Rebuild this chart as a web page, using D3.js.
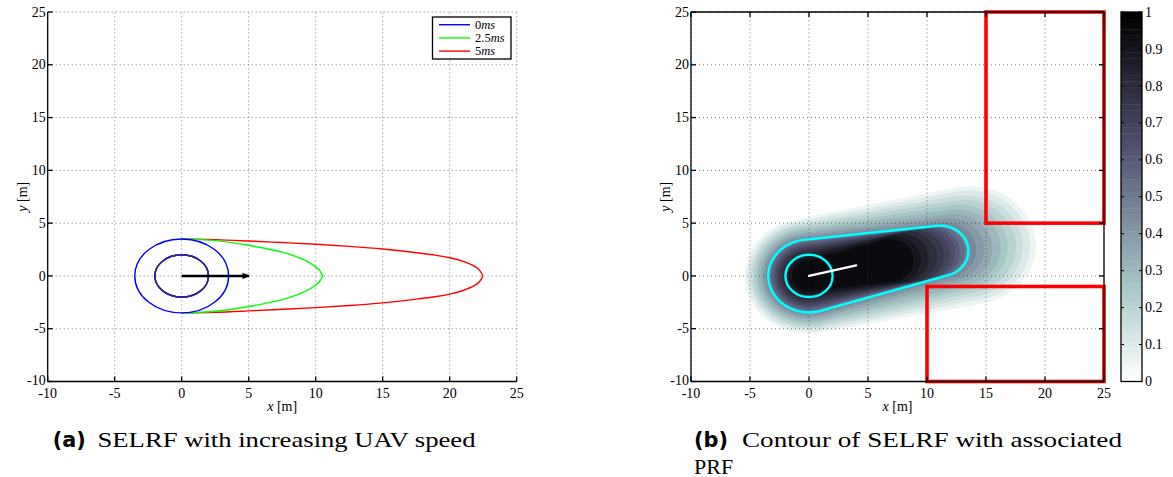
<!DOCTYPE html>
<html>
<head>
<meta charset="utf-8">
<script src="https://cdn.jsdelivr.net/npm/d3@7"></script>
<style>
  body { margin: 0; background: #fff; }
</style>
</head>
<body>
<svg id="fig" width="1173" height="477" style="font-family: 'Liberation Serif', 'Times New Roman', 'DejaVu Serif', serif;"></svg>
<script>
// ---------------- data ----------------
const xTickValues = [-10, -5, 0, 5, 10, 15, 20, 25];
const yTickValues = [-10, -5, 0, 5, 10, 15, 20, 25];
const xDomain = [-10, 25];
const yDomain = [-10, 25];

// (a) SELRF boundaries for three UAV speeds
const speedLabels = ["0", "2.5", "5"];
const speedColors = ["#0000ff", "#00ff00", "#ff0000"];
const innerRadius = 2;
const outerRadius = 3.5;
// upper half of the forward lobe (x, y) in metres
const lobe25 = [[0, 3.5], [1.25, 3.46], [2.5, 3.34], [3.75, 3.15], [5, 2.9], [6.25, 2.6],
                [7.5, 2.25], [8.5, 1.85], [9.25, 1.45], [9.9, 0.95], [10.3, 0.5], [10.5, 0]];
const lobe5 = [[0, 3.5], [2.5, 3.44], [5, 3.31], [7.5, 3.16], [10, 3.0], [12.5, 2.8],
               [15, 2.55], [17.5, 2.2], [19, 1.95], [20, 1.72], [21, 1.38], [21.8, 0.95],
               [22.25, 0.5], [22.45, 0]];
const velocityA = [[0, 0], [5, 0]];

// (b) filled contour levels of the SELRF with heading
const contourLevels = [0.05, 0.10, 0.15, 0.20, 0.25, 0.30, 0.35, 0.40, 0.45, 0.50,
                       0.55, 0.60, 0.65, 0.70, 0.75, 0.80, 0.85, 0.90, 0.95];
// rear radius, forward tip distance and front radius of each level (m)
const rearRadius  = [5.45, 5.2, 4.95, 4.75, 4.5, 4.3, 4.05, 3.85, 3.65, 3.45,
                     3.3, 3.1, 2.9, 2.7, 2.5, 2.25, 2.0, 1.7, 1.4];
const forwardTip  = [19.5, 19.0, 18.4, 17.8, 17.1, 16.5, 15.8, 15.1, 14.4, 13.75,
                     13.4, 13.0, 12.6, 12.1, 11.6, 11.0, 10.3, 9.6, 9.0];
const frontRadius = [5.6, 5.2, 4.8, 4.4, 4.0, 3.6, 3.2, 2.9, 2.6, 2.4,
                     2.4, 2.4, 2.4, 2.4, 2.4, 2.35, 2.3, 2.2, 2.0];
const fieldHeadingDeg = 12;
const selrfLevel = 0.5;
const safetyRadius = 2;
const velocityB = [[0, 0], [4, 1]];
// PRF obstacle boxes [x0, x1, y0, y1]
const prfBoxes = [[15, 25, 5, 25], [10, 25, -10, -1]];
const colorbarTicks = [0, 0.1, 0.2, 0.3, 0.4, 0.5, 0.6, 0.7, 0.8, 0.9, 1];

// ---------------- helpers ----------------
const svg = d3.select("#fig");
const plotTop = 12, plotBottom = 381.5;
const SERIF = "'Liberation Serif', 'Times New Roman', 'DejaVu Serif', serif";
const SANS = "'DejaVu Sans', 'Open Sans', sans-serif";

// flipped MATLAB "bone" colormap: 0 -> white, 1 -> black
function bone(v) {
  const t = 1 - Math.max(0, Math.min(1, v));
  const c = x => Math.max(0, Math.min(1, x));
  const hr = c(t / 0.375), hg = c((t - 0.375) / 0.375), hb = c((t - 0.75) / 0.25);
  return d3.rgb(255 * (7 * t + hb) / 8, 255 * (7 * t + hg) / 8, 255 * (7 * t + hr) / 8);
}

function txt(sel) { return sel.append("text").attr("font-family", SERIF).attr("fill", "#000"); }

function drawGrid(g, x, y, skipEdges) {
  const grid = g.append("g").attr("stroke", "#333").attr("stroke-width", 0.9)
    .attr("stroke-dasharray", "1 3").attr("opacity", 0.7);
  xTickValues.filter(v => !skipEdges || v !== xDomain[0]).forEach(v => {
    grid.append("line").attr("x1", x(v)).attr("x2", x(v)).attr("y1", y(yDomain[0])).attr("y2", y(yDomain[1]));
  });
  yTickValues.filter(v => !skipEdges || v !== yDomain[0]).forEach(v => {
    grid.append("line").attr("y1", y(v)).attr("y2", y(v)).attr("x1", x(xDomain[0])).attr("x2", x(xDomain[1]));
  });
}

function drawAxes(g, x, y, fullBox) {
  const ax = g.append("g").attr("stroke", "#000").attr("stroke-width", 1.3).attr("fill", "none");
  const x0 = x(xDomain[0]), x1 = x(xDomain[1]), y0 = y(yDomain[0]), y1 = y(yDomain[1]);
  ax.append("line").attr("x1", x0).attr("x2", x0).attr("y1", y0).attr("y2", y1);
  ax.append("line").attr("x1", x0).attr("x2", x1).attr("y1", y0).attr("y2", y0);
  if (fullBox) {
    ax.append("line").attr("x1", x1).attr("x2", x1).attr("y1", y0).attr("y2", y1);
    ax.append("line").attr("x1", x0).attr("x2", x1).attr("y1", y1).attr("y2", y1);
  }
  const tl = 5;
  xTickValues.forEach(v => {
    ax.append("line").attr("x1", x(v)).attr("x2", x(v)).attr("y1", y0).attr("y2", y0 - tl);
    if (fullBox) ax.append("line").attr("x1", x(v)).attr("x2", x(v)).attr("y1", y1).attr("y2", y1 + tl);
  });
  yTickValues.forEach(v => {
    ax.append("line").attr("y1", y(v)).attr("y2", y(v)).attr("x1", x0).attr("x2", x0 + tl);
    if (fullBox) ax.append("line").attr("y1", y(v)).attr("y2", y(v)).attr("x1", x1).attr("x2", x1 - tl);
  });
  const lab = g.append("g");
  xTickValues.forEach(v => {
    txt(lab).attr("font-size", 14).attr("x", x(v)).attr("y", y0 + 16).attr("text-anchor", "middle").text(String(v));
  });
  yTickValues.forEach(v => {
    txt(lab).attr("font-size", 14).attr("x", x0 - 2).attr("y", y(v) - (v === yDomain[0] ? 1.5 : 0)).attr("dy", "0.33em")
      .attr("text-anchor", "end").text(String(v));
  });
  // axis titles
  const xt = txt(g).attr("x", (x0 + x1) / 2).attr("y", y0 + 29.5)
    .attr("text-anchor", "middle").attr("font-size", 14);
  xt.append("tspan").attr("font-style", "italic").text("x");
  xt.append("tspan").text(" [m]");
  const yt = txt(g).attr("transform", `translate(${x0 - 21},${(y0 + y1) / 2}) rotate(-90)`)
    .attr("text-anchor", "middle").attr("font-size", 14);
  yt.append("tspan").attr("font-style", "italic").text("y");
  yt.append("tspan").text(" [m]");
}

// ---------------- panel (a) ----------------
const xa = d3.scaleLinear().domain(xDomain).range([47.7, 516.7]);
const ya = d3.scaleLinear().domain(yDomain).range([plotBottom, plotTop]);
const ga = svg.append("g");
drawGrid(ga, xa, ya, true);

const closeLobe = pts => pts.concat(pts.slice(0, -1).reverse().map(([px, py]) => [px, -py]));
const lobeLine = d3.line().x(d => xa(d[0])).y(d => ya(d[1])).curve(d3.curveCatmullRom.alpha(0.5));
const lobes = [null, lobe25, lobe5];

// draw fastest first so the slower boundaries sit on top
[2, 1, 0].forEach(i => {
  const col = speedColors[i];
  ga.append("ellipse").attr("cx", xa(0)).attr("cy", ya(0))
    .attr("rx", xa(innerRadius) - xa(0)).attr("ry", ya(0) - ya(innerRadius))
    .attr("fill", "none").attr("stroke", col).attr("stroke-width", 1.4);
  if (lobes[i]) {
    ga.append("path").attr("d", lobeLine(closeLobe(lobes[i])))
      .attr("fill", "none").attr("stroke", col).attr("stroke-width", 1.4);
  } else {
    ga.append("ellipse").attr("cx", xa(0)).attr("cy", ya(0))
      .attr("rx", xa(outerRadius) - xa(0)).attr("ry", ya(0) - ya(outerRadius))
      .attr("fill", "none").attr("stroke", col).attr("stroke-width", 1.4);
  }
});
// inner ring as seen through the overlapping boundaries
ga.append("ellipse").attr("cx", xa(0)).attr("cy", ya(0))
  .attr("rx", xa(innerRadius) - xa(0)).attr("ry", ya(0) - ya(innerRadius))
  .attr("fill", "none").attr("stroke", "#3a1fa0").attr("stroke-width", 1.5);

// velocity vector
const defs = svg.append("defs");
defs.append("marker").attr("id", "headA").attr("viewBox", "0 0 10 10")
  .attr("refX", 8).attr("refY", 5).attr("markerWidth", 3).attr("markerHeight", 3)
  .attr("orient", "auto").append("path").attr("d", "M0,1 L10,5 L0,9 Z").attr("fill", "#000");
ga.append("line").attr("x1", xa(velocityA[0][0])).attr("y1", ya(velocityA[0][1]))
  .attr("x2", xa(velocityA[1][0])).attr("y2", ya(velocityA[1][1]))
  .attr("stroke", "#000").attr("stroke-width", 2.6).attr("marker-end", "url(#headA)");

drawAxes(ga, xa, ya, false);

// legend
const leg = ga.append("g");
leg.append("rect").attr("x", 432.5).attr("y", 17).attr("width", 78.5).attr("height", 42)
  .attr("fill", "#fff").attr("stroke", "#000").attr("stroke-width", 1.3);
speedLabels.forEach((s, i) => {
  const yy = 24.7 + i * 13.2;
  leg.append("line").attr("x1", 439).attr("x2", 470).attr("y1", yy).attr("y2", yy)
    .attr("stroke", speedColors[i]).attr("stroke-width", 1.4);
  const t = txt(leg).attr("x", 475).attr("y", yy).attr("dy", "0.35em").attr("font-size", 12.5);
  t.append("tspan").text(s);
  t.append("tspan").attr("font-style", "italic").text("ms");
});

// ---------------- panel (b) ----------------
const xb = d3.scaleLinear().domain(xDomain).range([691, 1104]);
const yb = d3.scaleLinear().domain(yDomain).range([plotBottom, plotTop]);
const gb = svg.append("g");
const clip = defs.append("clipPath").attr("id", "clipB");
clip.append("rect").attr("x", xb(xDomain[0])).attr("y", yb(yDomain[1]))
  .attr("width", xb(xDomain[1]) - xb(xDomain[0])).attr("height", yb(yDomain[0]) - yb(yDomain[1]));

const phi = fieldHeadingDeg * Math.PI / 180;
// outline of a level: rear circle at the UAV joined smoothly to a front circle ending at the tip
function levelPath(R, tip, r) {
  const L = tip - r;
  const beta = Math.acos(Math.max(-1, Math.min(1, (R - r) / L)));
  const pts = [];
  const n = 72;
  for (let i = 0; i <= n; i++) {
    const a = beta + (2 * Math.PI - 2 * beta) * i / n;
    pts.push([R * Math.cos(a), R * Math.sin(a)]);
  }
  for (let i = 0; i <= n; i++) {
    const a = -beta + 2 * beta * i / n;
    pts.push([L + r * Math.cos(a), r * Math.sin(a)]);
  }
  const rot = pts.map(([u, v]) => [u * Math.cos(phi) - v * Math.sin(phi), u * Math.sin(phi) + v * Math.cos(phi)]);
  return d3.line().x(d => xb(d[0])).y(d => yb(d[1])).curve(d3.curveBasisClosed)(rot);
}

const fillG = gb.append("g").attr("clip-path", "url(#clipB)");
contourLevels.forEach((lv, i) => {
  fillG.append("path").attr("d", levelPath(rearRadius[i], forwardTip[i], frontRadius[i]))
    .attr("fill", bone(lv)).attr("stroke", bone(lv)).attr("stroke-width", 0.4);
});

drawGrid(gb, xb, yb, false);

// SELRF boundary and safety ring
const si = contourLevels.indexOf(selrfLevel);
gb.append("path").attr("d", levelPath(rearRadius[si], forwardTip[si], frontRadius[si]))
  .attr("fill", "none").attr("stroke", "#00ffff").attr("stroke-width", 2.6);
gb.append("ellipse").attr("cx", xb(0)).attr("cy", yb(0))
  .attr("rx", xb(safetyRadius) - xb(0)).attr("ry", yb(0) - yb(safetyRadius))
  .attr("fill", "none").attr("stroke", "#00ffff").attr("stroke-width", 2.4);
gb.append("line").attr("x1", xb(velocityB[0][0])).attr("y1", yb(velocityB[0][1]))
  .attr("x2", xb(velocityB[1][0])).attr("y2", yb(velocityB[1][1]))
  .attr("stroke", "#fff").attr("stroke-width", 2.2).attr("stroke-linecap", "round");

// PRF boxes
prfBoxes.forEach(([x0, x1, y0, y1]) => {
  gb.append("rect").attr("x", xb(x0)).attr("y", yb(y1))
    .attr("width", xb(x1) - xb(x0)).attr("height", yb(y0) - yb(y1))
    .attr("fill", "none").attr("stroke", "#ff0000").attr("stroke-width", 3.6);
});

drawAxes(gb, xb, yb, true);

// colorbar
const cb = svg.append("g");
const cbX = 1121, cbW = 21;
const yc = d3.scaleLinear().domain([0, 1]).range([plotBottom, plotTop]);
const nSteps = 64;
d3.range(nSteps).forEach(k => {
  cb.append("rect").attr("x", cbX).attr("y", yc((k + 1) / nSteps))
    .attr("width", cbW).attr("height", yc(k / nSteps) - yc((k + 1) / nSteps) + 0.4)
    .attr("fill", bone(k / (nSteps - 1)));
});
cb.append("rect").attr("x", cbX).attr("y", yc(1)).attr("width", cbW).attr("height", yc(0) - yc(1))
  .attr("fill", "none").attr("stroke", "#000").attr("stroke-width", 1.3);
colorbarTicks.forEach(v => {
  cb.append("line").attr("x1", cbX + cbW).attr("x2", cbX + cbW - 3).attr("y1", yc(v)).attr("y2", yc(v))
    .attr("stroke", "#000").attr("stroke-width", 1);
  cb.append("line").attr("x1", cbX).attr("x2", cbX + 3).attr("y1", yc(v)).attr("y2", yc(v))
    .attr("stroke", "#000").attr("stroke-width", 1);
  txt(cb).attr("x", cbX + cbW + 3).attr("y", yc(v)).attr("dy", "0.33em")
    .attr("font-size", 14).text(String(v));
});

// ---------------- captions ----------------
svg.append("text").attr("font-family", SANS).attr("font-weight", "bold")
  .attr("x", 52.7).attr("y", 447).attr("font-size", 21)
  .attr("textLength", 33).attr("lengthAdjust", "spacingAndGlyphs").text("(a)");
txt(svg).attr("x", 97.5).attr("y", 447).attr("font-size", 22)
  .attr("textLength", 378).attr("lengthAdjust", "spacingAndGlyphs").text("SELRF with increasing UAV speed");
svg.append("text").attr("font-family", SANS).attr("font-weight", "bold")
  .attr("x", 694).attr("y", 447).attr("font-size", 21)
  .attr("textLength", 34).attr("lengthAdjust", "spacingAndGlyphs").text("(b)");
txt(svg).attr("x", 742).attr("y", 447).attr("font-size", 22)
  .attr("textLength", 380).attr("lengthAdjust", "spacingAndGlyphs").text("Contour of SELRF with associated");
txt(svg).attr("x", 694).attr("y", 473.5).attr("font-size", 22).text("PRF");
</script>
</body>
</html>
